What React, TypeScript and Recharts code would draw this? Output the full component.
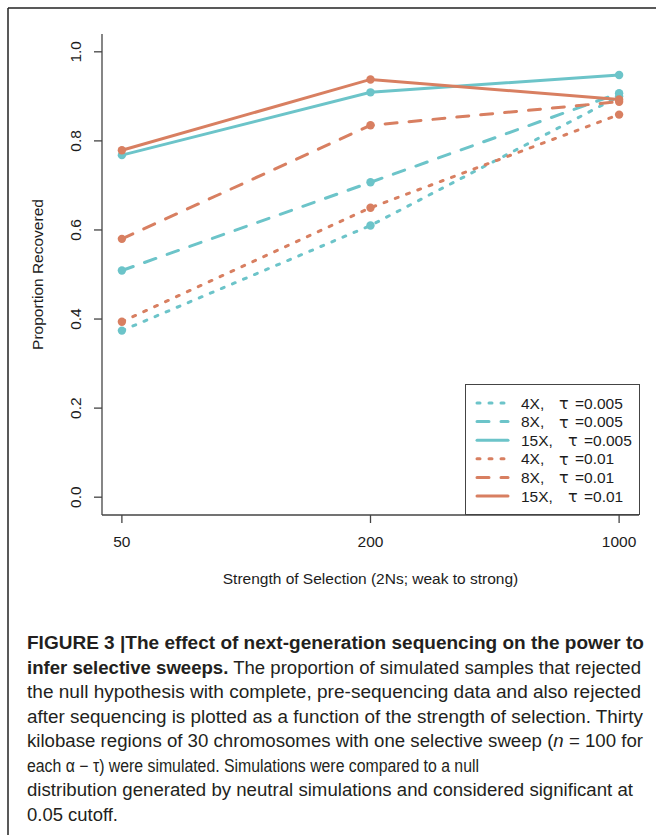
import React from "react";
import { LineChart, Line, XAxis, YAxis, Legend, Label } from "recharts";

// strength of selection (2Ns)
const categories = ["50", "200", "1000"];
const yTicks = [0, 0.2, 0.4, 0.6, 0.8, 1.0];

// proportion recovered, one array per coverage / tau combination
const cov4Tau005 = [0.374, 0.61, 0.9];
const cov8Tau005 = [0.509, 0.707, 0.907];
const cov15Tau005 = [0.768, 0.909, 0.948];
const cov4Tau01 = [0.394, 0.65, 0.859];
const cov8Tau01 = [0.58, 0.835, 0.888];
const cov15Tau01 = [0.779, 0.938, 0.893];

const TEAL = "#6cc4c9";
const ORANGE = "#d87f61";
const DOTTED = "3 9";
const DASHED = "12 12";

const FONT = "'Liberation Sans', Arial, Helvetica, sans-serif";
const CAPTION_FONT = "'Liberation Sans Narrow', 'Liberation Sans', Arial, sans-serif";
const INK = "#1c1c1c";
const AXIS = "#444";

const series = [
  { key: "c4t005", cov: "4X", tau: "0.005", values: cov4Tau005, color: TEAL, dash: DOTTED },
  { key: "c8t005", cov: "8X", tau: "0.005", values: cov8Tau005, color: TEAL, dash: DASHED },
  { key: "c15t005", cov: "15X", tau: "0.005", values: cov15Tau005, color: TEAL, dash: undefined },
  { key: "c4t01", cov: "4X", tau: "0.01", values: cov4Tau01, color: ORANGE, dash: DOTTED },
  { key: "c8t01", cov: "8X", tau: "0.01", values: cov8Tau01, color: ORANGE, dash: DASHED },
  { key: "c15t01", cov: "15X", tau: "0.01", values: cov15Tau01, color: ORANGE, dash: undefined },
];

const data = categories.map((cat, i) => {
  const row: Record<string, number | string> = { x: i + 1, cat };
  series.forEach((s) => {
    row[s.key] = s.values[i];
  });
  return row;
});

const xDomain = [0.92, 3.08];
const yDomain = [-0.04, 1.04];

function XTick({ x, y, payload }: any) {
  return (
    <text x={x} y={y} dy="0.71em" textAnchor="middle" fontSize={15.5} fill={INK} fontFamily={FONT}>
      {categories[payload.value - 1]}
    </text>
  );
}

function YTick({ x, y, payload }: any) {
  return (
    <text
      x={x}
      y={y}
      transform={`rotate(-90, ${x}, ${y})`}
      textAnchor="middle"
      fontSize={15.5}
      fill={INK}
      fontFamily={FONT}
    >
      {Number(payload.value).toFixed(1)}
    </text>
  );
}

function XTitle({ viewBox }: any) {
  const cx = viewBox.x + viewBox.width / 2;
  const by = viewBox.y + 69;
  return (
    <text x={cx} y={by} textAnchor="middle" fontSize={15.5} fill={INK} fontFamily={FONT}>
      Strength of Selection (2Ns; weak to strong)
    </text>
  );
}

function YTitle({ viewBox }: any) {
  const bx = viewBox.x + 43;
  const cy = viewBox.y + viewBox.height / 2;
  return (
    <text
      x={bx}
      y={cy}
      transform={`rotate(-90, ${bx}, ${cy})`}
      textAnchor="middle"
      fontSize={15.5}
      fill={INK}
      fontFamily={FONT}
    >
      Proportion Recovered
    </text>
  );
}

// keep the plotting order (Recharts sorts the payload by name)
function LegendBox({ payload }: any) {
  const items = payload || [];
  return (
    <div
      style={{
        width: 175,
        height: 131,
        border: `1px solid ${AXIS}`,
        boxSizing: "border-box",
        background: "#fff",
      }}
    >
      <svg width={173} height={129} style={{ display: "block" }}>
        {series.map((s, i) => {
          const entry = items.find((e: any) => e.dataKey === s.key) || {};
          const cy = 18 + i * 18.6;
          const tauX = s.cov.length > 2 ? 102 : 93;
          return (
            <g key={s.key}>
              <line
                x1={11}
                x2={42}
                y1={cy}
                y2={cy}
                stroke={entry.color || s.color}
                strokeWidth={3}
                strokeDasharray={s.dash}
                strokeLinecap="round"
              />
              <text x={55} y={cy} dy="0.36em" fontSize={15.5} fill={INK} fontFamily={FONT}>
                {`${s.cov},`}
              </text>
              <text x={tauX} y={cy} dy="0.38em" fontSize={16} fill={INK} fontFamily="'DejaVu Sans', sans-serif">
                τ
              </text>
              <text x={tauX + 16} y={cy} dy="0.36em" fontSize={15.5} fill={INK} fontFamily={FONT}>
                {`=${s.tau}`}
              </text>
            </g>
          );
        })}
      </svg>
    </div>
  );
}

const captionLines = [
  { bold: "FIGURE 3 |The effect of next-generation sequencing on the power to", rest: "", width: 617 },
  { bold: "infer selective sweeps.", rest: " The proportion of simulated samples that rejected", width: 614 },
  { bold: "", rest: "the null hypothesis with complete, pre-sequencing data and also rejected", width: 614 },
  { bold: "", rest: "after sequencing is plotted as a function of the strength of selection. Thirty", width: 616 },
  { bold: "", rest: "kilobase regions of 30 chromosomes with one selective sweep (", italic: "n", tail: " = 100 for", width: 616 },
  { bold: "", rest: "each α − τ) were simulated. Simulations were compared to a null", width: 452 },
  { bold: "", rest: "distribution generated by neutral simulations and considered significant at", width: 606 },
  { bold: "", rest: "0.05 cutoff.", width: 91 },
];

export default function App() {
  return (
    <div style={{ position: "absolute", left: 0, top: 0, width: 656, height: 835, background: "#fff", overflow: "hidden" }}>
      <div style={{ position: "absolute", left: 0, top: 0 }}>
        <LineChart width={656} height={600} data={data} margin={{ top: 34, right: 17, bottom: 25, left: 0 }}>
          <XAxis
            dataKey="x"
            type="number"
            domain={xDomain}
            ticks={[1, 2, 3]}
            allowDataOverflow
            height={60}
            tickSize={8}
            tickMargin={13}
            tick={<XTick />}
            stroke={AXIS}
            strokeWidth={1.3}
          >
            <Label content={<XTitle />} />
          </XAxis>
          <XAxis
            xAxisId="top"
            orientation="top"
            dataKey="x"
            type="number"
            domain={xDomain}
            allowDataOverflow
            height={0}
            tick={false}
            tickLine={false}
            stroke={AXIS}
            strokeWidth={1.3}
          />
          <YAxis
            type="number"
            domain={yDomain}
            ticks={yTicks}
            allowDataOverflow
            width={102}
            tickSize={8}
            tickMargin={13}
            tick={<YTick />}
            stroke={AXIS}
            strokeWidth={1.3}
          >
            <Label content={<YTitle />} />
          </YAxis>
          <YAxis
            yAxisId="right"
            orientation="right"
            type="number"
            domain={yDomain}
            allowDataOverflow
            width={0}
            tick={false}
            tickLine={false}
            stroke={AXIS}
            strokeWidth={1.3}
          />
          {series.map((s) => (
            <Line
              key={s.key}
              dataKey={s.key}
              name={`${s.cov}, τ =${s.tau}`}
              type="linear"
              stroke={s.color}
              strokeWidth={3}
              strokeDasharray={s.dash}
              strokeLinecap="round"
              dot={{ r: 4.2, fill: s.color, stroke: "none", strokeWidth: 0, strokeDasharray: undefined }}
              activeDot={false}
              isAnimationActive={false}
            />
          ))}
          <Legend
            content={<LegendBox />}
            layout="horizontal"
            verticalAlign="middle"
            align="center"
            wrapperStyle={{ position: "absolute", left: 465, top: 384, width: 175, height: 131 }}
          />
        </LineChart>
      </div>
      <svg
        width={656}
        height={835}
        style={{ position: "absolute", left: 0, top: 0, pointerEvents: "none" }}
      >
        <line x1={8} y1={8} x2={656} y2={8} stroke="#222" strokeWidth={1.5} />
        <line x1={8} y1={8} x2={8} y2={835} stroke="#222" strokeWidth={1.5} />
        {captionLines.map((ln, i) => (
          <text
            key={i}
            x={27}
            y={649.3 + i * 24.5}
            textLength={ln.width}
            lengthAdjust="spacingAndGlyphs"
            fontSize={17.5}
            fill="#231f20"
            fontFamily={CAPTION_FONT}
          >
            {ln.bold ? <tspan fontWeight="bold">{ln.bold}</tspan> : null}
            {ln.rest}
            {ln.italic ? <tspan fontStyle="italic">{ln.italic}</tspan> : null}
            {ln.tail || null}
          </text>
        ))}
      </svg>
    </div>
  );
}
